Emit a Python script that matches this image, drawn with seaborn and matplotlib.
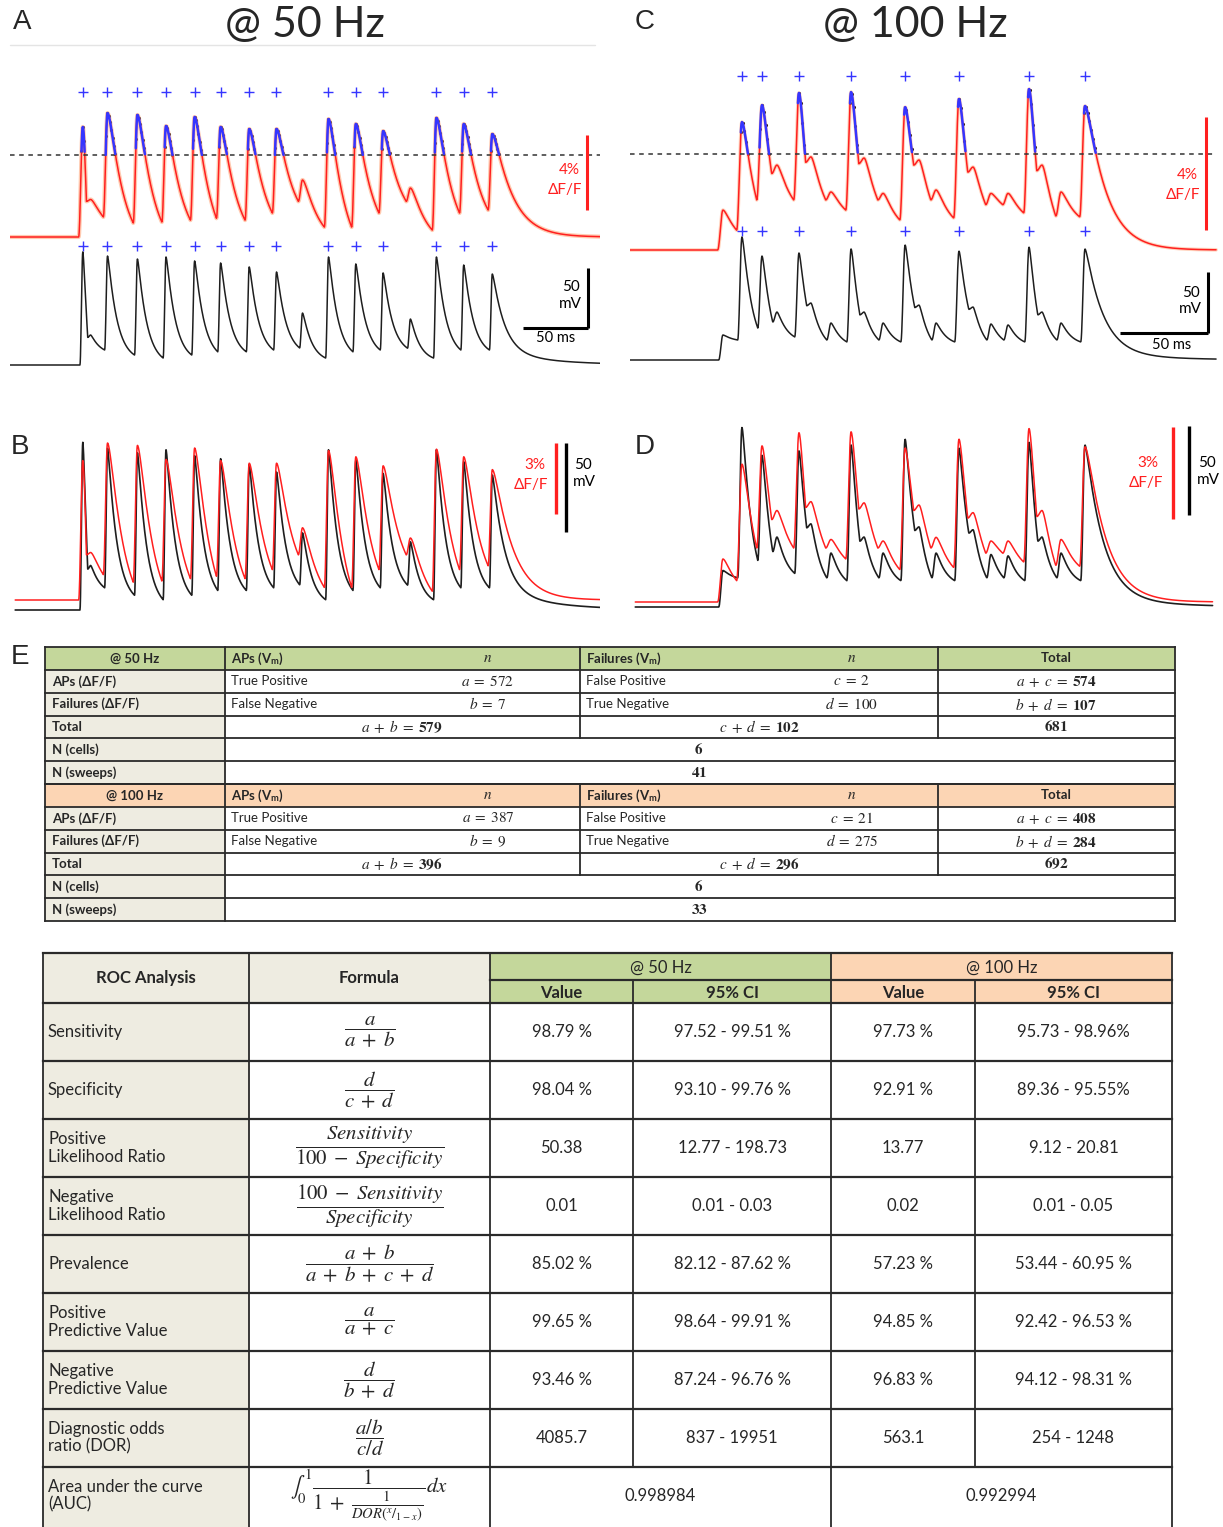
import numpy as np
import pandas as pd
import matplotlib
matplotlib.use("Agg")
import matplotlib.pyplot as plt
import seaborn as sns
from matplotlib.patches import Rectangle

sns.set_theme(style="white")
plt.rcParams["font.family"] = ["Lato", "DejaVu Sans"]
plt.rcParams["mathtext.fontset"] = "stix"

W, H = 1223, 1527

# ------------------------------------------------------------------
# DATA : 50 Hz train (panels A, B) -- key points
# times in ms, Vm in mV, dF/F in %
# ------------------------------------------------------------------
hz50_t = [56, 62, 75, 98, 120, 142, 162, 184, 205, 225, 245, 266, 287, 308, 328, 349, 371]
hz50_ap = [1, 0, 1, 1, 1, 1, 1, 1, 1, 0, 1, 1, 1, 0, 1, 1, 1]
hz50_vm_peak = [24.2, -45.0, 20.8, 18.3, 20.0, 16.7, 15.0, 11.7, 7.5, -26.7, 20.0, 14.2, 6.7, -31.7, 20.0, 13.3, 5.8]
hz50_vm_trough = [-47.0, -57.5, -61.7, -64.2, -61.7, -59.0, -59.0, -57.5, -55.8, -64.2, -59.0, -57.5, -56.0, -64.2, -57.5, -57.5, np.nan]
hz50_df_peak = [5.87, 2.0, 6.61, 6.51, 5.92, 6.40, 5.87, 5.76, 5.76, 3.04, 6.29, 6.03, 5.65, 2.61, 6.35, 6.03, 5.49]
hz50_df_trough = [1.9, 1.07, 0.75, 0.8, 0.9, 1.0, 0.9, 1.28, 1.9, 0.53, 0.53, 1.28, 1.9, 0.37, 1.28, 1.44, np.nan]
hz50_threshold = 4.37

# DATA : 100 Hz train (panels C, D)
hz100_t = [52.8, 63.6, 75.0, 83.5, 96.0, 102.8, 114.2, 125.6, 133.0, 143.8, 156.3,
           164.2, 173.9, 186.9, 194.9, 205.1, 214.8, 226.7, 234.1, 244.9, 258.5]
hz100_ap = [0, 1, 1, 0, 1, 0, 0, 1, 0, 0, 1, 0, 0, 1, 0, 0, 0, 1, 0, 0, 1]
hz100_vm_peak = [-49.5, 30.8, 15.2, -30.7, 17.7, -23.3, -39.7, 21.0, -30.7, -39.7, 24.3,
                 -25.0, -39.7, 19.3, -26.6, -40.5, -41.3, 22.6, -30.7, -39.7, 21.0]
hz100_vm_trough = [-53.6, -43.8, -38.9, -51.1, -25.5, -53.6, -55.2, -33.0, -53.6, -55.2, -27.0,
                   -53.6, -55.2, -28.5, -53.6, -53.6, -55.2, -33.0, -53.6, -55.2, np.nan]
hz100_df_peak = [1.41, 4.52, 5.12, 3.00, 5.55, 3.29, 2.05, 5.58, 3.25, 2.00, 5.05,
                 3.18, 2.12, 5.34, 2.93, 2.00, 2.00, 5.69, 3.00, 2.05, 5.09]
hz100_df_trough = [0.70, 1.77, 2.70, 1.77, 3.10, 1.77, 1.41, 3.05, 1.77, 1.06, 3.00,
                   1.77, 1.13, 2.75, 1.60, 1.60, 1.31, 2.80, 1.20, 1.17, np.nan]
hz100_threshold = 3.39

VM_REST = -70.0

# DATA : contingency tables (panel E)
e_row_labels = ["APs (\u0394F/F)", "Failures (\u0394F/F)", "Total", "N (cells)", "N (sweeps)"]
e_freqs = ["@ 50 Hz", "@ 100 Hz"]
e_a = [572, 387]
e_b = [7, 9]
e_c = [2, 21]
e_d = [100, 275]
e_ac = [574, 408]
e_bd = [107, 284]
e_ab = [579, 396]
e_cd = [102, 296]
e_total = [681, 692]
e_cells = [6, 6]
e_sweeps = [41, 33]

# DATA : ROC table
roc_labels = ["Sensitivity", "Specificity", "Positive\nLikelihood Ratio", "Negative\nLikelihood Ratio",
              "Prevalence", "Positive\nPredictive Value", "Negative\nPredictive Value",
              "Diagnostic odds\nratio (DOR)", "Area under the curve\n(AUC)"]
roc_formulas = [r"$\dfrac{a}{a\;+\;b}$", r"$\dfrac{d}{c\;+\;d}$",
                r"$\dfrac{Sensitivity}{100\;-\;Specificity}$", r"$\dfrac{100\;-\;Sensitivity}{Specificity}$",
                r"$\dfrac{a\;+\;b}{a\;+\;b\;+\;c\;+\;d}$", r"$\dfrac{a}{a\;+\;c}$", r"$\dfrac{d}{b\;+\;d}$",
                r"$\dfrac{a/b}{c/d}$",
                r"$\int_0^1\dfrac{1}{1\;+\;\frac{1}{DOR(^{x}/_{1-x})}}dx$"]
roc_val50 = ["98.79 %", "98.04 %", "50.38", "0.01", "85.02 %", "99.65 %", "93.46 %", "4085.7", "0.998984"]
roc_ci50 = ["97.52 - 99.51 %", "93.10 - 99.76 %", "12.77 - 198.73", "0.01 - 0.03", "82.12 - 87.62 %",
            "98.64 - 99.91 %", "87.24 - 96.76 %", "837 - 19951", None]
roc_val100 = ["97.73 %", "92.91 %", "13.77", "0.02", "57.23 %", "94.85 %", "96.83 %", "563.1", "0.992994"]
roc_ci100 = ["95.73 - 98.96%", "89.36 - 95.55%", "9.12 - 20.81", "0.01 - 0.05", "53.44 - 60.95 %",
             "92.42 - 96.53 %", "94.12 - 98.31 %", "254 - 1248", None]

# ------------------------------------------------------------------
RED = "#ff1f1f"
HALO = "#ffa070"
BLUE = "#3535ff"
BLK = "#1e1e1e"
GREEN = "#c4d79b"
PEACH = "#fcd5b4"
BEIGE = "#eeece1"
LC = "#2a2a2a"


def build_trace(t, times, peaks, troughs, base, rise, tau, tail_tau, tail_slow=0.0,
                tail_tau_slow=40.0, round_ms=0.3):
    """Waveform through the read key points: rise to each peak, decay to trough."""
    y = np.full(t.shape, base, dtype=float)
    prev = base
    n = len(times)

    def warp(s):
        return s * s / (s + round_ms)

    for i in range(n):
        ti, pi = times[i], peaks[i]
        r0 = ti - rise
        m = (t >= r0) & (t < ti)
        u = (t[m] - r0) / rise
        y[m] = prev + (pi - prev) * (0.5 - 0.5 * np.cos(np.pi * u))
        if i < n - 1:
            t_end = times[i + 1] - rise
            f = troughs[i]
            S = warp(max(t_end - ti, 1e-3))
            m = (t >= ti) & (t < t_end)
            s = warp(t[m] - ti)
            k = (np.exp(-s / tau) - np.exp(-S / tau)) / (1 - np.exp(-S / tau))
            y[m] = f + (pi - f) * k
            prev = f
        else:
            m = t >= ti
            s = warp(t[m] - ti)
            y[m] = base + (pi - base) * ((1 - tail_slow) * np.exp(-s / tail_tau)
                                         + tail_slow * np.exp(-s / tail_tau_slow))
    return y


fig = plt.figure(figsize=(W / 100, H / 100), dpi=100)
fig.patch.set_facecolor("white")


def rect(x0, y0, x1, y1):
    return [x0 / W, 1 - y1 / H, (x1 - x0) / W, (y1 - y0) / H]


def ftext(x, y, s, **kw):
    fig.text(x / W, 1 - y / H, s, **kw)


class Panel:
    def __init__(self, x0, x1, y0, y1, px_ms, r_base, r_ppu, k_base, k_ppu, red_on_top=False):
        self.x0, self.px_ms = x0, px_ms
        self.r_base, self.r_ppu, self.k_base, self.k_ppu = r_base, r_ppu, k_base, k_ppu
        self.ar = fig.add_axes(rect(x0, y0, x1, y1))
        self.ar.set_xlim(0, (x1 - x0) / px_ms)
        self.ar.set_ylim(-(y1 - r_base) / r_ppu, (r_base - y0) / r_ppu)
        self.ak = self.ar.twinx()
        self.ak.set_ylim(VM_REST - (y1 - k_base) / k_ppu, VM_REST + (k_base - y0) / k_ppu)
        for a in (self.ar, self.ak):
            a.axis("off")
            a.patch.set_alpha(0)
        if red_on_top:
            self.ar.set_zorder(self.ak.get_zorder() + 1)

    def t(self, x):
        return (x - self.x0) / self.px_ms

    def rv(self, y):
        return (self.r_base - y) / self.r_ppu

    def kv(self, y):
        return VM_REST + (self.k_base - y) / self.k_ppu


def blue_overlay(ax, t, v, thr, times, ap, start_before):
    mask = v >= thr
    near = np.zeros_like(mask)
    for ti, a in zip(times, ap):
        if a:
            near |= (t >= ti - start_before) & (t <= ti + 12)
    mask &= near
    seg = np.cumsum(np.r_[True, mask[1:] != mask[:-1]])
    df = pd.DataFrame({"t": t[mask], "v": v[mask], "seg": seg[mask]})
    sns.lineplot(data=df, x="t", y="v", units="seg", estimator=None, color=BLUE, lw=1.8, ax=ax, legend=False)
    dots = df[np.isclose((df["t"] * 10).round() % 10, 0)]
    sns.scatterplot(data=dots, x="t", y="v", color="black", s=5, linewidth=0, ax=ax, legend=False)


def plus_row(ax, times, ap, yval):
    ts = [ti for ti, a in zip(times, ap) if a]
    sns.scatterplot(x=ts, y=[yval] * len(ts), marker="+", s=48, color=BLUE, linewidth=1.0, ax=ax, legend=False)


DT = 0.2
# ---------------- traces -----------------
t50 = np.arange(0, 454, DT)
vm50 = build_trace(t50, hz50_t, hz50_vm_peak, hz50_vm_trough, VM_REST, 2.2, 7.0, 9.0, 0.15, 40.0, round_ms=0.9)
df50 = build_trace(t50, hz50_t, hz50_df_peak, hz50_df_trough, 0.0, 3.2, 11.0, 14.0, round_ms=3.5)
t100 = np.arange(0, 335, DT)
vm100 = build_trace(t100, hz100_t, hz100_vm_peak, hz100_vm_trough, VM_REST, 2.4, 5.5, 10.0, 0.05, 40.0, round_ms=1.0)
df100 = build_trace(t100, hz100_t, hz100_df_peak, hz100_df_trough, 0.0, 3.0, 7.0, 11.0, round_ms=2.5)

# ---- Panel A
pA = Panel(10, 600, 50, 380, 1.3, 237, 18.75, 365, 1.2)
sns.lineplot(x=t50, y=df50, ax=pA.ar, color=HALO, lw=3.0, alpha=0.55)
sns.lineplot(x=t50, y=df50, ax=pA.ar, color=RED, lw=1.1)
pA.ar.axhline(hz50_threshold, color="#333333", lw=1.1, ls=(0, (3, 3)))
blue_overlay(pA.ar, t50, df50, hz50_threshold, hz50_t, hz50_ap, 5.0)
plus_row(pA.ar, hz50_t, hz50_ap, pA.rv(92))
sns.lineplot(x=t50, y=vm50, ax=pA.ak, color=BLK, lw=1.1)
plus_row(pA.ak, hz50_t, hz50_ap, pA.kv(246))
pA.ar.plot([pA.t(587)] * 2, [pA.rv(135), pA.rv(135) - 4], color=RED, lw=2.2, solid_capstyle="butt")
pA.ak.plot([pA.t(588)] * 2, [pA.kv(268), pA.kv(268) - 50], color="black", lw=2.2, solid_capstyle="butt")
pA.ak.plot([pA.t(588) - 50, pA.t(588)], [pA.kv(268) - 50] * 2, color="black", lw=2.2, solid_capstyle="butt")

# ---- Panel B
pB = Panel(10, 600, 425, 625, 1.3, 600, 23.75, 610, 1.78, red_on_top=True)
mB = t50 >= 4
sns.lineplot(x=t50[mB], y=vm50[mB], ax=pB.ak, color=BLK, lw=1.2)
sns.lineplot(x=t50[mB], y=df50[mB], ax=pB.ar, color=RED, lw=1.1)
pB.ar.plot([pB.t(556)] * 2, [pB.rv(443), pB.rv(443) - 3], color=RED, lw=2.4, solid_capstyle="butt")
pB.ak.plot([pB.t(566)] * 2, [pB.kv(443), pB.kv(443) - 50], color="black", lw=2.4, solid_capstyle="butt")

# ---- Panel C
pC = Panel(630, 1220, 50, 380, 1.76, 250, 28.3, 360, 1.22)
mC = t100 <= 333
sns.lineplot(x=t100[mC], y=df100[mC], ax=pC.ar, color=HALO, lw=2.6, alpha=0.45)
sns.lineplot(x=t100[mC], y=df100[mC], ax=pC.ar, color=RED, lw=1.1)
pC.ar.axhline(hz100_threshold, xmin=0, xmax=0.99, color="#333333", lw=1.1, ls=(0, (3, 3)))
blue_overlay(pC.ar, t100, df100, hz100_threshold, hz100_t, hz100_ap, 0.6)
plus_row(pC.ar, hz100_t, hz100_ap, pC.rv(76))
sns.lineplot(x=t100[mC], y=vm100[mC], ax=pC.ak, color=BLK, lw=1.1)
plus_row(pC.ak, hz100_t, hz100_ap, pC.kv(231))
pC.ar.plot([pC.t(1206)] * 2, [pC.rv(117), pC.rv(117) - 4], color=RED, lw=2.2, solid_capstyle="butt")
pC.ak.plot([pC.t(1208)] * 2, [pC.kv(272), pC.kv(272) - 50], color="black", lw=2.2, solid_capstyle="butt")
pC.ak.plot([pC.t(1208) - 50, pC.t(1208)], [pC.kv(272) - 50] * 2, color="black", lw=2.2, solid_capstyle="butt")

# ---- Panel D
pD = Panel(630, 1220, 425, 625, 1.76, 602, 30.5, 607, 1.78, red_on_top=True)
mD = (t100 >= 3) & (t100 <= 331)
sns.lineplot(x=t100[mD], y=vm100[mD], ax=pD.ak, color=BLK, lw=1.2)
sns.lineplot(x=t100[mD], y=df100[mD], ax=pD.ar, color=RED, lw=1.1)
pD.ar.plot([pD.t(1173)] * 2, [pD.rv(427), pD.rv(427) - 3], color=RED, lw=2.4, solid_capstyle="butt")
pD.ak.plot([pD.t(1189)] * 2, [pD.kv(426), pD.kv(426) - 50], color="black", lw=2.4, solid_capstyle="butt")

# ---- panel texts
LETTER = dict(fontsize=20, family=["Liberation Sans", "DejaVu Sans"], ha="center", va="center")
ftext(22, 22, "A", **LETTER)
ftext(645, 22, "C", **LETTER)
ftext(20, 447, "B", **LETTER)
ftext(645, 447, "D", **LETTER)
ftext(20, 657, "E", **LETTER)
ftext(305, 25, "@ 50 Hz", fontsize=31, ha="center", va="center")
ftext(915, 25, "@ 100 Hz", fontsize=31, ha="center", va="center")
line = plt.Line2D([10 / W, 595 / W], [1 - 45 / H] * 2, transform=fig.transFigure, color="#e4e4e4", lw=1)
fig.add_artist(line)

SB = dict(fontsize=11, ha="right", va="center")
ftext(580, 170, "4%", color=RED, **SB)
ftext(582, 190, "\u0394F/F", color=RED, **SB)
ftext(580, 287, "50", color="black", **SB)
ftext(582, 304, "mV", color="black", **SB)
ftext(556, 338, "50 ms", color="black", fontsize=10.5, ha="center", va="center")
ftext(1198, 175, "4%", color=RED, **SB)
ftext(1200, 195, "\u0394F/F", color=RED, **SB)
ftext(1200, 293, "50", color="black", **SB)
ftext(1202, 309, "mV", color="black", **SB)
ftext(1172, 345, "50 ms", color="black", fontsize=10.5, ha="center", va="center")
ftext(545, 465, "3%", color=RED, **SB)
ftext(548, 485, "\u0394F/F", color=RED, **SB)
ftext(583, 465, "50", color="black", fontsize=11, ha="center", va="center")
ftext(584, 482, "mV", color="black", fontsize=11, ha="center", va="center")
ftext(1158, 463, "3%", color=RED, **SB)
ftext(1163, 483, "\u0394F/F", color=RED, **SB)
ftext(1207, 463, "50", color="black", fontsize=11, ha="center", va="center")
ftext(1208, 480, "mV", color="black", fontsize=11, ha="center", va="center")

# ------------------------------------------------------------------
# TABLES (drawn in a pixel-coordinate overlay axes)
# ------------------------------------------------------------------
tab = fig.add_axes([0, 0, 1, 1])
tab.set_xlim(0, W)
tab.set_ylim(H, 0)
tab.axis("off")
tab.patch.set_alpha(0)


def cell(x0, y0, x1, y1, fc):
    tab.add_patch(Rectangle((x0, y0), x1 - x0, y1 - y0, facecolor=fc, edgecolor="none", zorder=1))


def hl(x0, x1, y, lw=1.3):
    tab.plot([x0, x1], [y, y], color=LC, lw=lw, solid_capstyle="projecting", zorder=3)


def vl(x, y0, y1, lw=1.3):
    tab.plot([x, x], [y0, y1], color=LC, lw=lw, solid_capstyle="projecting", zorder=3)


def tx(x, y, s, size=9.5, ha="center", weight="normal", **kw):
    tab.text(x, y, s, fontsize=size, ha=ha, va="center", fontweight=weight, zorder=4, **kw)


# ---- Table E
ec = [45, 225, 580, 938, 1175]
e_top, e_bot = 647, 921
rh = (e_bot - e_top) / 12
MS = 11
for b in range(2):
    y0 = e_top + b * 6 * rh
    hdr_col = GREEN if b == 0 else PEACH
    cell(ec[0], y0, ec[-1], y0 + rh, hdr_col)
    cell(ec[0], y0 + rh, ec[1], y0 + 6 * rh, BEIGE)
    cy = [y0 + rh * (i + 0.5) for i in range(6)]
    tx(135, cy[0], e_freqs[b], weight="bold")
    tx(231, cy[0], r"APs (V$_\mathregular{m}$)", ha="left", weight="bold")
    tx(488, cy[0], r"$n$", size=MS)
    tx(586, cy[0], r"Failures (V$_\mathregular{m}$)", ha="left", weight="bold")
    tx(852, cy[0], r"$n$", size=MS)
    tx(1056, cy[0], "Total", weight="bold")
    for i, lab in enumerate(e_row_labels):
        tx(52, cy[i + 1], lab, ha="left", weight="bold")
    tx(231, cy[1], "True Positive", ha="left")
    tx(488, cy[1], r"$a\;=\;%d$" % e_a[b], size=MS)
    tx(586, cy[1], "False Positive", ha="left")
    tx(852, cy[1], r"$c\;=\;%d$" % e_c[b], size=MS)
    tx(1056, cy[1], r"$a\;+\;c\;=\;\mathbf{%d}$" % e_ac[b], size=MS)
    tx(231, cy[2], "False Negative", ha="left")
    tx(488, cy[2], r"$b\;=\;%d$" % e_b[b], size=MS)
    tx(586, cy[2], "True Negative", ha="left")
    tx(852, cy[2], r"$d\;=\;%d$" % e_d[b], size=MS)
    tx(1056, cy[2], r"$b\;+\;d\;=\;\mathbf{%d}$" % e_bd[b], size=MS)
    tx(402, cy[3], r"$a\;+\;b\;=\;\mathbf{%d}$" % e_ab[b], size=MS)
    tx(759, cy[3], r"$c\;+\;d\;=\;\mathbf{%d}$" % e_cd[b], size=MS)
    tx(1056, cy[3], r"$\mathbf{%d}$" % e_total[b], size=MS)
    tx(699, cy[4], r"$\mathbf{%d}$" % e_cells[b], size=MS)
    tx(699, cy[5], r"$\mathbf{%d}$" % e_sweeps[b], size=MS)
    for i in range(7):
        hl(ec[0], ec[-1], y0 + i * rh)
    vl(ec[0], y0, y0 + 6 * rh)
    vl(ec[1], y0, y0 + 6 * rh)
    vl(ec[-1], y0, y0 + 6 * rh)
    vl(ec[2], y0, y0 + 4 * rh)
    vl(ec[3], y0, y0 + 4 * rh)

# ---- ROC table
rc = [43, 249, 490, 633, 831, 975, 1172]
r_top, r_mid, r_hdr = 953, 980, 1003
rrh = 58
rows_y = [r_hdr + rrh * i for i in range(10)]
bottom = H + 10
cell(rc[0], r_top, rc[2], r_hdr, BEIGE)
cell(rc[2], r_top, rc[4], r_hdr, GREEN)
cell(rc[4], r_top, rc[6], r_hdr, PEACH)
cell(rc[0], r_hdr, rc[1], bottom, BEIGE)
RS = 12
tx((rc[0] + rc[1]) / 2, (r_top + r_hdr) / 2, "ROC Analysis", size=RS, weight="bold")
tx((rc[1] + rc[2]) / 2, (r_top + r_hdr) / 2, "Formula", size=RS, weight="bold")
tx((rc[2] + rc[4]) / 2, (r_top + r_mid) / 2 + 1, "@ 50 Hz", size=RS)
tx((rc[4] + rc[6]) / 2, (r_top + r_mid) / 2 + 1, "@ 100 Hz", size=RS)
for j, lab in enumerate(["Value", "95% CI", "Value", "95% CI"]):
    tx((rc[2 + j] + rc[3 + j]) / 2, (r_mid + r_hdr) / 2 + 1, lab, size=RS, weight="bold")
for i in range(9):
    cy = rows_y[i] + rrh / 2
    tab.text(48, cy, roc_labels[i], fontsize=RS, ha="left", va="center", linespacing=1.12, zorder=4)
    tx((rc[1] + rc[2]) / 2, cy, roc_formulas[i], size=15)
    if roc_ci50[i] is None:
        tx((rc[2] + rc[4]) / 2, cy, roc_val50[i], size=RS)
        tx((rc[4] + rc[6]) / 2, cy, roc_val100[i], size=RS)
    else:
        tx((rc[2] + rc[3]) / 2, cy, roc_val50[i], size=RS)
        tx((rc[3] + rc[4]) / 2, cy, roc_ci50[i], size=RS)
        tx((rc[4] + rc[5]) / 2, cy, roc_val100[i], size=RS)
        tx((rc[5] + rc[6]) / 2, cy, roc_ci100[i], size=RS)
hl(rc[0], rc[6], r_top, 1.6)
hl(rc[2], rc[6], r_mid, 1.6)
for y in rows_y[:9]:
    hl(rc[0], rc[6], y, 1.6)
for x in (rc[0], rc[1], rc[2], rc[4], rc[6]):
    vl(x, r_top, bottom, 1.3)
for x in (rc[3], rc[5]):
    vl(x, r_mid, rows_y[8], 1.3)

fig.savefig("out.png", dpi=100, facecolor="white")
